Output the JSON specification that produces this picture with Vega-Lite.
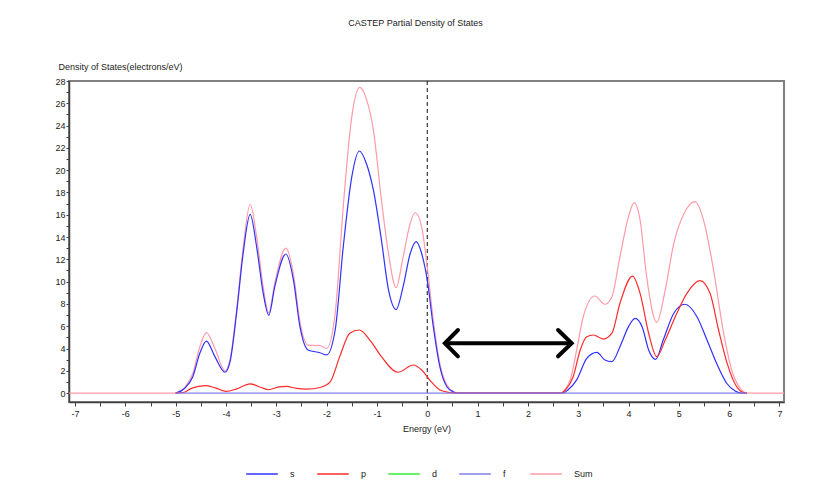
{
  "$schema": "https://vega.github.io/schema/vega-lite/v6.json",
  "autosize": {"type": "none"},
  "width": 715,
  "height": 321,
  "padding": {"left": 69, "top": 81, "right": 33, "bottom": 83},
  "background": "white",
  "config": {
    "font": "Liberation Sans",
    "view": {"stroke": "#808080", "strokeWidth": 2},
    "axis": {"grid": false, "domainColor": "#404040", "domainWidth": 1.5, "tickColor": "#404040", "tickSize": 4, "labelFont": "Liberation Sans", "labelFontSize": 9, "labelColor": "#222222", "titleFont": "Liberation Sans", "titleFontSize": 9, "titleFontWeight": "normal", "titleColor": "#222222"}
  },
  "title": {"text": "CASTEP Partial Density of States", "font": "Liberation Sans", "fontSize": 9, "fontWeight": "normal", "color": "#222222", "anchor": "middle", "frame": "group", "dx": -11, "offset": 34},
  "datasets": {
    "pdos": [
      {"orb": "Sum", "e": -7.12, "dos": 0}, {"orb": "Sum", "e": -5.0, "dos": 0}, {"orb": "Sum", "e": -4.82, "dos": 0.5}, {"orb": "Sum", "e": -4.66, "dos": 1.77}, {"orb": "Sum", "e": -4.52, "dos": 4.16}, {"orb": "Sum", "e": -4.39, "dos": 5.42}, {"orb": "Sum", "e": -4.22, "dos": 4.0}, {"orb": "Sum", "e": -4.02, "dos": 2.0}, {"orb": "Sum", "e": -3.92, "dos": 3.0}, {"orb": "Sum", "e": -3.79, "dos": 7.4}, {"orb": "Sum", "e": -3.66, "dos": 13.0}, {"orb": "Sum", "e": -3.52, "dos": 16.94}, {"orb": "Sum", "e": -3.39, "dos": 14.0}, {"orb": "Sum", "e": -3.26, "dos": 9.5}, {"orb": "Sum", "e": -3.15, "dos": 7.2}, {"orb": "Sum", "e": -3.03, "dos": 9.9}, {"orb": "Sum", "e": -2.81, "dos": 13.0}, {"orb": "Sum", "e": -2.66, "dos": 10.7}, {"orb": "Sum", "e": -2.53, "dos": 6.4}, {"orb": "Sum", "e": -2.37, "dos": 4.3}, {"orb": "Sum", "e": -2.13, "dos": 4.25}, {"orb": "Sum", "e": -2.0, "dos": 4.0}, {"orb": "Sum", "e": -1.83, "dos": 7.16}, {"orb": "Sum", "e": -1.67, "dos": 16.7}, {"orb": "Sum", "e": -1.5, "dos": 24.8}, {"orb": "Sum", "e": -1.34, "dos": 27.43}, {"orb": "Sum", "e": -1.21, "dos": 26.4}, {"orb": "Sum", "e": -1.07, "dos": 23.6}, {"orb": "Sum", "e": -0.91, "dos": 17.3}, {"orb": "Sum", "e": -0.77, "dos": 12.5}, {"orb": "Sum", "e": -0.62, "dos": 9.46}, {"orb": "Sum", "e": -0.48, "dos": 12.2}, {"orb": "Sum", "e": -0.34, "dos": 15.2}, {"orb": "Sum", "e": -0.24, "dos": 16.2}, {"orb": "Sum", "e": -0.11, "dos": 14.9}, {"orb": "Sum", "e": 0.0, "dos": 11.35}, {"orb": "Sum", "e": 0.12, "dos": 6.56}, {"orb": "Sum", "e": 0.25, "dos": 2.67}, {"orb": "Sum", "e": 0.39, "dos": 0.73}, {"orb": "Sum", "e": 0.54, "dos": 0.1}, {"orb": "Sum", "e": 0.62, "dos": 0}, {"orb": "Sum", "e": 2.64, "dos": 0}, {"orb": "Sum", "e": 2.84, "dos": 1.18}, {"orb": "Sum", "e": 2.97, "dos": 3.87}, {"orb": "Sum", "e": 3.1, "dos": 6.85}, {"orb": "Sum", "e": 3.33, "dos": 8.71}, {"orb": "Sum", "e": 3.53, "dos": 7.97}, {"orb": "Sum", "e": 3.67, "dos": 8.65}, {"orb": "Sum", "e": 3.83, "dos": 12.24}, {"orb": "Sum", "e": 4.0, "dos": 15.83}, {"orb": "Sum", "e": 4.11, "dos": 17.08}, {"orb": "Sum", "e": 4.23, "dos": 15.53}, {"orb": "Sum", "e": 4.36, "dos": 10.44}, {"orb": "Sum", "e": 4.56, "dos": 6.35}, {"orb": "Sum", "e": 4.73, "dos": 9.25}, {"orb": "Sum", "e": 4.9, "dos": 13.44}, {"orb": "Sum", "e": 5.09, "dos": 15.98}, {"orb": "Sum", "e": 5.32, "dos": 17.17}, {"orb": "Sum", "e": 5.49, "dos": 15.53}, {"orb": "Sum", "e": 5.69, "dos": 11.04}, {"orb": "Sum", "e": 5.89, "dos": 5.37}, {"orb": "Sum", "e": 6.05, "dos": 2.07}, {"orb": "Sum", "e": 6.22, "dos": 0.43}, {"orb": "Sum", "e": 6.32, "dos": 0.05}, {"orb": "Sum", "e": 6.4, "dos": 0}, {"orb": "Sum", "e": 7.09, "dos": 0},
      {"orb": "s", "e": -5.0, "dos": 0}, {"orb": "s", "e": -4.82, "dos": 0.43}, {"orb": "s", "e": -4.66, "dos": 1.47}, {"orb": "s", "e": -4.52, "dos": 3.57}, {"orb": "s", "e": -4.39, "dos": 4.67}, {"orb": "s", "e": -4.22, "dos": 3.27}, {"orb": "s", "e": -4.02, "dos": 1.87}, {"orb": "s", "e": -3.92, "dos": 2.8}, {"orb": "s", "e": -3.79, "dos": 7.16}, {"orb": "s", "e": -3.66, "dos": 12.5}, {"orb": "s", "e": -3.52, "dos": 16.04}, {"orb": "s", "e": -3.39, "dos": 13.1}, {"orb": "s", "e": -3.26, "dos": 8.95}, {"orb": "s", "e": -3.15, "dos": 7.0}, {"orb": "s", "e": -3.03, "dos": 9.55}, {"orb": "s", "e": -2.81, "dos": 12.48}, {"orb": "s", "e": -2.66, "dos": 10.15}, {"orb": "s", "e": -2.53, "dos": 5.96}, {"orb": "s", "e": -2.37, "dos": 3.87}, {"orb": "s", "e": -2.13, "dos": 3.62}, {"orb": "s", "e": -2.0, "dos": 3.42}, {"orb": "s", "e": -1.83, "dos": 5.66}, {"orb": "s", "e": -1.67, "dos": 13.1}, {"orb": "s", "e": -1.5, "dos": 19.4}, {"orb": "s", "e": -1.35, "dos": 21.72}, {"orb": "s", "e": -1.21, "dos": 20.6}, {"orb": "s", "e": -1.07, "dos": 18.2}, {"orb": "s", "e": -0.91, "dos": 13.7}, {"orb": "s", "e": -0.77, "dos": 9.25}, {"orb": "s", "e": -0.62, "dos": 7.5}, {"orb": "s", "e": -0.48, "dos": 9.55}, {"orb": "s", "e": -0.34, "dos": 12.5}, {"orb": "s", "e": -0.22, "dos": 13.58}, {"orb": "s", "e": -0.11, "dos": 12.5}, {"orb": "s", "e": 0.0, "dos": 10.15}, {"orb": "s", "e": 0.12, "dos": 5.96}, {"orb": "s", "e": 0.25, "dos": 2.37}, {"orb": "s", "e": 0.39, "dos": 0.57}, {"orb": "s", "e": 0.52, "dos": 0.1}, {"orb": "s", "e": 0.6, "dos": 0}, {"orb": "s", "e": 2.7, "dos": 0}, {"orb": "s", "e": 2.8, "dos": 0.3}, {"orb": "s", "e": 2.97, "dos": 1.18}, {"orb": "s", "e": 3.17, "dos": 3.12}, {"orb": "s", "e": 3.37, "dos": 3.66}, {"orb": "s", "e": 3.53, "dos": 2.97}, {"orb": "s", "e": 3.67, "dos": 2.82}, {"orb": "s", "e": 3.83, "dos": 4.16}, {"orb": "s", "e": 4.0, "dos": 5.96}, {"orb": "s", "e": 4.13, "dos": 6.71}, {"orb": "s", "e": 4.27, "dos": 5.96}, {"orb": "s", "e": 4.4, "dos": 3.87}, {"orb": "s", "e": 4.54, "dos": 3.03}, {"orb": "s", "e": 4.69, "dos": 4.76}, {"orb": "s", "e": 4.9, "dos": 7.16}, {"orb": "s", "e": 5.12, "dos": 7.97}, {"orb": "s", "e": 5.36, "dos": 6.85}, {"orb": "s", "e": 5.56, "dos": 4.76}, {"orb": "s", "e": 5.75, "dos": 2.67}, {"orb": "s", "e": 5.95, "dos": 0.88}, {"orb": "s", "e": 6.12, "dos": 0.19}, {"orb": "s", "e": 6.25, "dos": 0}, {"orb": "s", "e": 6.35, "dos": 0},
      {"orb": "p", "e": -5.0, "dos": 0}, {"orb": "p", "e": -4.85, "dos": 0.05}, {"orb": "p", "e": -4.7, "dos": 0.4}, {"orb": "p", "e": -4.55, "dos": 0.6}, {"orb": "p", "e": -4.39, "dos": 0.67}, {"orb": "p", "e": -4.2, "dos": 0.45}, {"orb": "p", "e": -4.0, "dos": 0.15}, {"orb": "p", "e": -3.8, "dos": 0.35}, {"orb": "p", "e": -3.52, "dos": 0.82}, {"orb": "p", "e": -3.3, "dos": 0.5}, {"orb": "p", "e": -3.15, "dos": 0.3}, {"orb": "p", "e": -2.95, "dos": 0.55}, {"orb": "p", "e": -2.8, "dos": 0.6}, {"orb": "p", "e": -2.6, "dos": 0.42}, {"orb": "p", "e": -2.4, "dos": 0.35}, {"orb": "p", "e": -2.13, "dos": 0.5}, {"orb": "p", "e": -1.93, "dos": 1.0}, {"orb": "p", "e": -1.74, "dos": 3.27}, {"orb": "p", "e": -1.54, "dos": 5.37}, {"orb": "p", "e": -1.35, "dos": 5.66}, {"orb": "p", "e": -1.14, "dos": 4.76}, {"orb": "p", "e": -0.91, "dos": 3.27}, {"orb": "p", "e": -0.58, "dos": 1.87}, {"orb": "p", "e": -0.28, "dos": 2.52}, {"orb": "p", "e": -0.11, "dos": 2.07}, {"orb": "p", "e": 0.05, "dos": 1.17}, {"orb": "p", "e": 0.25, "dos": 0.28}, {"orb": "p", "e": 0.45, "dos": 0.05}, {"orb": "p", "e": 0.55, "dos": 0}, {"orb": "p", "e": 2.65, "dos": 0}, {"orb": "p", "e": 2.75, "dos": 0.3}, {"orb": "p", "e": 2.9, "dos": 1.47}, {"orb": "p", "e": 3.04, "dos": 3.87}, {"orb": "p", "e": 3.17, "dos": 5.06}, {"orb": "p", "e": 3.3, "dos": 5.21}, {"orb": "p", "e": 3.5, "dos": 4.85}, {"orb": "p", "e": 3.67, "dos": 5.37}, {"orb": "p", "e": 3.83, "dos": 8.06}, {"orb": "p", "e": 4.08, "dos": 10.5}, {"orb": "p", "e": 4.23, "dos": 8.95}, {"orb": "p", "e": 4.4, "dos": 5.37}, {"orb": "p", "e": 4.56, "dos": 3.27}, {"orb": "p", "e": 4.73, "dos": 4.76}, {"orb": "p", "e": 4.96, "dos": 7.16}, {"orb": "p", "e": 5.16, "dos": 8.95}, {"orb": "p", "e": 5.42, "dos": 10.09}, {"orb": "p", "e": 5.62, "dos": 8.95}, {"orb": "p", "e": 5.79, "dos": 5.66}, {"orb": "p", "e": 5.96, "dos": 2.67}, {"orb": "p", "e": 6.15, "dos": 0.57}, {"orb": "p", "e": 6.28, "dos": 0.05}, {"orb": "p", "e": 6.35, "dos": 0},
      {"orb": "d", "e": -5.0, "dos": 0}, {"orb": "d", "e": 6.35, "dos": 0},
      {"orb": "f", "e": -5.0, "dos": 0}, {"orb": "f", "e": 6.35, "dos": 0}
    ],
    "arrow": [
      {"seg": "shaft", "i": 0, "e": 0.38, "dos": 4.47}, {"seg": "shaft", "i": 1, "e": 2.84, "dos": 4.47},
      {"seg": "left", "i": 0, "e": 0.61, "dos": 5.66}, {"seg": "left", "i": 1, "e": 0.35, "dos": 4.47}, {"seg": "left", "i": 2, "e": 0.61, "dos": 3.3},
      {"seg": "right", "i": 0, "e": 2.6, "dos": 5.66}, {"seg": "right", "i": 1, "e": 2.87, "dos": 4.47}, {"seg": "right", "i": 2, "e": 2.6, "dos": 3.3}
    ]
  },
  "data": {"name": "pdos"},
  "encoding": {
    "x": {"field": "e", "type": "quantitative", "scale": {"domain": [-7.12, 7.09], "nice": false, "zero": false},
      "axis": {"title": "Energy (eV)", "values": [-7, -6.5, -6, -5.5, -5, -4.5, -4, -3.5, -3, -2.5, -2, -1.5, -1, -0.5, 0, 0.5, 1, 1.5, 2, 2.5, 3, 3.5, 4, 4.5, 5, 5.5, 6, 6.5, 7], "labelExpr": "datum.value % 1 === 0 ? '' + datum.value : ''", "labelPadding": 3, "titlePadding": 6}},
    "y": {"field": "dos", "type": "quantitative", "scale": {"domain": [-0.8, 28], "nice": false, "zero": false},
      "axis": {"title": "Density of States(electrons/eV)", "values": [0, 1, 2, 3, 4, 5, 6, 7, 8, 9, 10, 11, 12, 13, 14, 15, 16, 17, 18, 19, 20, 21, 22, 23, 24, 25, 26, 27, 28], "labelExpr": "datum.value % 2 === 0 ? '' + datum.value : ''", "labelPadding": 1, "tickSize": 3, "titleAngle": 0, "titleAlign": "left", "titleBaseline": "middle", "titleX": -11, "titleY": -15}}
  },
  "layer": [
    {
      "data": {"values": [{"e": 0}]},
      "mark": {"type": "rule", "color": "#111111", "strokeWidth": 1, "strokeDash": [4, 3]},
      "encoding": {"x": {"field": "e", "type": "quantitative"}, "y": null}
    },
    {
      "transform": [{"filter": "datum.orb === 'Sum'"}],
      "mark": {"type": "line", "interpolate": "monotone", "strokeWidth": 1.2},
      "encoding": {"color": {"field": "orb", "type": "nominal", "scale": {"domain": ["s", "p", "d", "f", "Sum"], "range": ["#3030ff", "#ff2a2a", "#33ee33", "#8080e8", "#ff9aa6"]},
        "legend": {"title": null, "orient": "none", "legendX": 176, "legendY": 376, "direction": "horizontal", "symbolType": "stroke", "symbolSize": 1000, "symbolStrokeWidth": 1.5, "labelFont": "Liberation Sans", "labelFontSize": 9, "labelColor": "#222222", "labelOffset": 11, "columnPadding": 5, "gridAlign": "all"}}}
    },
    {
      "transform": [{"filter": "datum.orb === 's' || datum.orb === 'p'"}],
      "mark": {"type": "line", "interpolate": "monotone", "strokeWidth": 1.2},
      "encoding": {"color": {"field": "orb", "type": "nominal"}}
    },
    {
      "transform": [{"filter": "datum.orb === 'f'"}],
      "mark": {"type": "line", "strokeWidth": 1.2},
      "encoding": {"color": {"field": "orb", "type": "nominal"}}
    },
    {
      "data": {"name": "arrow"},
      "mark": {"type": "line", "color": "black", "strokeWidth": 4, "strokeCap": "round", "strokeJoin": "miter"},
      "encoding": {"detail": {"field": "seg"}, "order": {"field": "i", "type": "quantitative"}}
    }
  ]
}
